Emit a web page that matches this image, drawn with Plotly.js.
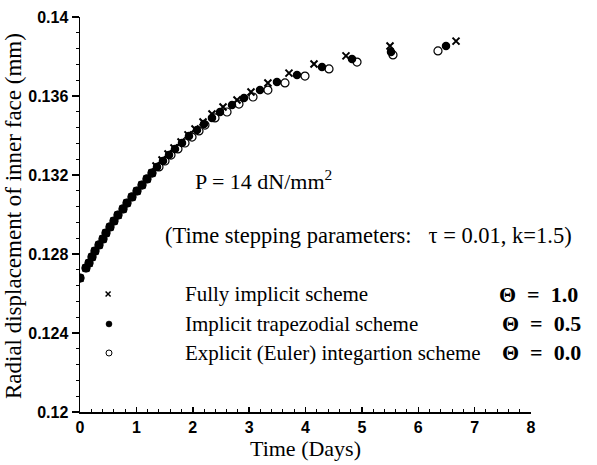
<!DOCTYPE html>
<html>
<head>
<meta charset="utf-8">
<script src="https://cdn.plot.ly/plotly-3.0.1.min.js"></script>
<style>
  html, body { margin: 0; padding: 0; background: #ffffff; }
  #chart { width: 597px; height: 465px; }
</style>
</head>
<body>
<div id="chart"></div>
<script>
// Radial displacement of the inner face vs. time for three time-integration schemes

// Fully implicit scheme (Theta = 1.0)
const implicitDays = [0, 0.106, 0.160, 0.213, 0.266, 0.337, 0.408, 0.461, 0.532, 0.603, 0.674, 0.763,
  0.834, 0.922, 1.011, 1.100, 1.188, 1.277, 1.348, 1.455, 1.561, 1.667, 1.792, 1.916, 2.040, 2.182,
  2.341, 2.537, 2.785, 3.033, 3.333, 3.707, 4.151, 4.718, 5.499, 6.670];
const implicitDisp = [0.12678, 0.12729, 0.12754, 0.12785, 0.12815, 0.12846, 0.12876, 0.12906, 0.12937,
  0.12967, 0.12997, 0.13028, 0.13058, 0.13089, 0.13119, 0.13149, 0.13180, 0.13210, 0.13246, 0.13276,
  0.13306, 0.13337, 0.13367, 0.13403, 0.13433, 0.13468, 0.13509, 0.13544, 0.13580, 0.13620, 0.13666,
  0.13716, 0.13762, 0.13803, 0.13853, 0.13878];

// Implicit trapezoidal scheme (Theta = 0.5)
const trapezDays = [0, 0.106, 0.160, 0.213, 0.266, 0.337, 0.408, 0.461, 0.532, 0.603, 0.674, 0.763,
  0.834, 0.922, 1.011, 1.100, 1.188, 1.277, 1.366, 1.472, 1.579, 1.685, 1.809, 1.933, 2.075, 2.200,
  2.341, 2.483, 2.696, 2.909, 3.193, 3.494, 3.849, 4.293, 4.825, 5.517, 6.492];
const trapezDisp = [0.12678, 0.12729, 0.12754, 0.12785, 0.12815, 0.12846, 0.12876, 0.12906, 0.12937,
  0.12967, 0.12997, 0.13028, 0.13058, 0.13089, 0.13119, 0.13149, 0.13180, 0.13210, 0.13241, 0.13271,
  0.13301, 0.13332, 0.13362, 0.13397, 0.13428, 0.13458, 0.13489, 0.13519, 0.13554, 0.13590, 0.13630,
  0.13671, 0.13706, 0.13747, 0.13787, 0.13823, 0.13853];

// Explicit (Euler) scheme (Theta = 0.0)
const explicitDays = [0, 0.106, 0.160, 0.213, 0.266, 0.337, 0.408, 0.461, 0.532, 0.603, 0.674, 0.763,
  0.834, 0.922, 1.011, 1.100, 1.188, 1.277, 1.401, 1.508, 1.614, 1.738, 1.863, 1.987, 2.111, 2.217,
  2.395, 2.608, 2.820, 3.069, 3.333, 3.636, 3.991, 4.417, 4.914, 5.552, 6.350];
const explicitDisp = [0.12678, 0.12729, 0.12754, 0.12785, 0.12815, 0.12846, 0.12876, 0.12906, 0.12937,
  0.12967, 0.12997, 0.13028, 0.13058, 0.13089, 0.13119, 0.13149, 0.13180, 0.13210, 0.13241, 0.13271,
  0.13301, 0.13332, 0.13362, 0.13392, 0.13423, 0.13453, 0.13489, 0.13519, 0.13559, 0.13595, 0.13630,
  0.13666, 0.13701, 0.13737, 0.13772, 0.13808, 0.13828];

const schemeNames = ['Fully implicit scheme', 'Implicit trapezodial scheme', 'Explicit (Euler) integartion scheme'];
const thetaLabels = ['\u0398\u00a0\u00a0=\u00a0\u00a01.0', '\u0398\u00a0\u00a0=\u00a0\u00a00.5', '\u0398\u00a0\u00a0=\u00a0\u00a00.0'];

const serif = 'Liberation Serif, Times New Roman, serif';
const sans = 'Liberation Sans, Arial, sans-serif';

const traces = [
  {
    x: explicitDays, y: explicitDisp, type: 'scatter', mode: 'markers', name: schemeNames[2],
    marker: { symbol: 'circle', size: 8, color: '#ffffff', line: { color: '#000000', width: 1.2 } }
  },
  {
    x: implicitDays, y: implicitDisp, type: 'scatter', mode: 'markers', name: schemeNames[0],
    marker: { symbol: 'x-thin-open', size: 7, color: '#000000', line: { color: '#000000', width: 2 } }
  },
  {
    x: trapezDays, y: trapezDisp, type: 'scatter', mode: 'markers', name: schemeNames[1],
    marker: { symbol: 'circle', size: 8.5, color: '#000000', line: { width: 0 } }
  }
];

const legendX = 0.2284;
const symX = 0.0643;
const rowY = [0.2987, 0.2228, 0.1494];
const txtFont = { family: serif, size: 21, color: '#000' };
const thetaFont = { family: serif, size: 22, color: '#000' };

const annotations = [
  // y-axis title, placed beside the tick labels
  { text: 'Radial displacement of inner face (mm)', x: -0.1486, y: 0.496, xanchor: 'center', yanchor: 'middle', textangle: -90,
    font: { family: serif, size: 23, color: '#000' } },
  { text: 'P = 14 dN/mm<sup>2</sup>', x: 0.2506, y: 0.588, xanchor: 'left', yanchor: 'middle', font: { family: serif, size: 22, color: '#000' } },
  { text: '(Time stepping parameters:\u00a0\u00a0\u00a0\u03c4 = 0.01, k=1.5)', x: 0.184, y: 0.4456, xanchor: 'left', yanchor: 'middle', font: { family: serif, size: 22.5, color: '#000' } },
  { text: schemeNames[0], x: legendX, y: rowY[0], xanchor: 'left', yanchor: 'middle', font: txtFont },
  { text: '<b>' + thetaLabels[0] + '</b>', x: 1.1086, y: rowY[0], xanchor: 'right', yanchor: 'middle', font: thetaFont },
  { text: schemeNames[1], x: legendX, y: rowY[1], xanchor: 'left', yanchor: 'middle', font: txtFont },
  { text: '<b>' + thetaLabels[1] + '</b>', x: 1.1153, y: rowY[1], xanchor: 'right', yanchor: 'middle', font: thetaFont },
  { text: schemeNames[2], x: legendX, y: rowY[2], xanchor: 'left', yanchor: 'middle', font: txtFont },
  { text: '<b>' + thetaLabels[2] + '</b>', x: 1.1153, y: rowY[2], xanchor: 'right', yanchor: 'middle', font: thetaFont }
].map(a => Object.assign({ xref: 'paper', yref: 'paper', showarrow: false }, a));

// legend symbols drawn as small pixel-sized shapes
const shapes = [
  { type: 'line', xref: 'paper', yref: 'paper', xsizemode: 'pixel', ysizemode: 'pixel', xanchor: symX - 0.002, yanchor: rowY[0],
    x0: -2.5, x1: 2.5, y0: -2.5, y1: 2.5, line: { color: '#000', width: 1.5 } },
  { type: 'line', xref: 'paper', yref: 'paper', xsizemode: 'pixel', ysizemode: 'pixel', xanchor: symX - 0.002, yanchor: rowY[0],
    x0: -2.5, x1: 2.5, y0: 2.5, y1: -2.5, line: { color: '#000', width: 1.5 } },
  { type: 'circle', xref: 'paper', yref: 'paper', xsizemode: 'pixel', ysizemode: 'pixel', xanchor: symX, yanchor: rowY[1],
    x0: -3, x1: 3, y0: -3, y1: 3, fillcolor: '#000', line: { color: '#000', width: 0.5 } },
  { type: 'circle', xref: 'paper', yref: 'paper', xsizemode: 'pixel', ysizemode: 'pixel', xanchor: symX, yanchor: rowY[2],
    x0: -3, x1: 3, y0: -3, y1: 3, fillcolor: 'rgba(0,0,0,0)', line: { color: '#000', width: 1 } }
];

const layout = {
  width: 597, height: 465,
  margin: { l: 80, r: 66, t: 17, b: 53 },
  paper_bgcolor: '#ffffff', plot_bgcolor: '#ffffff',
  showlegend: false,
  xaxis: {
    range: [0, 8], dtick: 1, tick0: 0,
    showgrid: false, zeroline: false,
    showline: true, linecolor: '#000', linewidth: 1.5,
    ticks: 'inside', ticklen: 5, tickwidth: 1.5, tickcolor: '#000',
    minor: { dtick: 0.2, ticks: 'inside', ticklen: 3, tickwidth: 1, tickcolor: '#000' },
    tickfont: { family: sans, size: 16, color: '#000', weight: 'bold' },
    title: { text: 'Time (Days)', font: { family: serif, size: 22, color: '#000' }, standoff: 3 }
  },
  yaxis: {
    range: [0.12, 0.14], dtick: 0.004, tick0: 0.12,
    showgrid: false, zeroline: false,
    showline: true, linecolor: '#000', linewidth: 1.5,
    ticks: 'outside', ticklen: 7, tickwidth: 1.5, tickcolor: '#000',
    minor: { dtick: 0.0008, ticks: 'outside', ticklen: 3, tickwidth: 1, tickcolor: '#000' },
    tickfont: { family: sans, size: 16, color: '#000', weight: 'bold' }
  },
  annotations: annotations,
  shapes: shapes
};

Plotly.newPlot('chart', traces, layout, { displayModeBar: false, staticPlot: true });
</script>
</body>
</html>
